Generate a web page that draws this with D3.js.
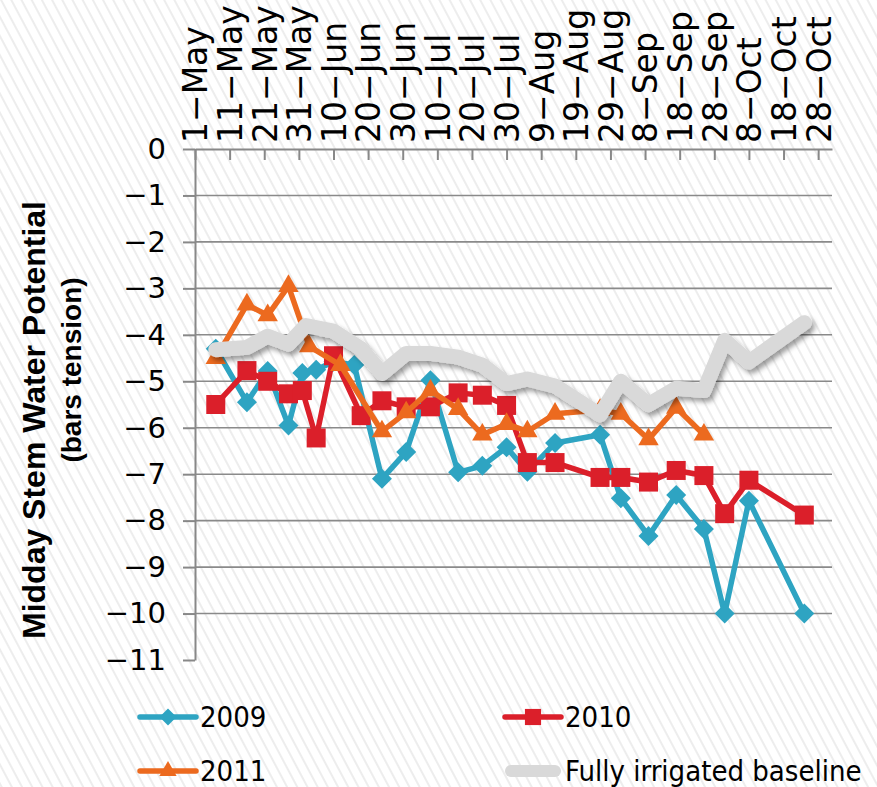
<!DOCTYPE html>
<html>
<head>
<meta charset="utf-8">
<script src="https://cdn.jsdelivr.net/npm/d3@7"></script>
<style>
  body { margin: 0; background: #fff; }
  svg { display: block; }
</style>
</head>
<body>
<svg id="chart" width="877" height="787"></svg>
<script>
// Season dates (month-day) and midday stem water potential readings, bars tension
const tickDates = ["05-01","05-11","05-21","05-31","06-10","06-20","06-30","07-10","07-20","07-30",
                   "08-09","08-19","08-29","09-08","09-18","09-28","10-08","10-18","10-28"];
const tickLabels = ["1−May","11−May","21−May","31−May","10−Jun","20−Jun","30−Jun","10−Jul","20−Jul","30−Jul",
                    "9−Aug","19−Aug","29−Aug","8−Sep","18−Sep","28−Sep","8−Oct","18−Oct","28−Oct"];
const yTicks = [0,-1,-2,-3,-4,-5,-6,-7,-8,-9,-10,-11];

const dates2009 = ["05-07","05-16","05-22","05-28","06-01","06-05","06-10","06-16","06-24","07-01","07-08","07-16",
                   "07-23","07-30","08-05","08-13","08-26","09-01","09-09","09-17","09-25","10-01","10-08","10-24"];
const values2009 = [-4.3,-5.45,-4.78,-5.95,-4.82,-4.75,-4.58,-4.65,-7.1,-6.52,-4.98,-6.96,
                    -6.82,-6.42,-6.95,-6.33,-6.15,-7.52,-8.33,-7.45,-8.18,-10.0,-7.57,-10.0];

const dates2010 = ["05-07","05-16","05-22","05-28","06-01","06-05","06-10","06-18","06-24","07-01","07-08","07-16",
                   "07-23","07-30","08-05","08-13","08-26","09-01","09-09","09-17","09-25","10-01","10-08","10-24"];
const values2010 = [-5.5,-4.77,-5.0,-5.27,-5.2,-6.22,-4.45,-5.74,-5.42,-5.55,-5.55,-5.25,
                    -5.3,-5.52,-6.75,-6.75,-7.07,-7.07,-7.17,-6.92,-7.03,-7.85,-7.13,-7.88];

const dates2011 = ["05-07","05-16","05-22","05-28","06-03","06-12","06-24","07-01","07-08","07-16",
                   "07-23","07-30","08-05","08-13","08-26","09-01","09-09","09-17","09-25"];
const values2011 = [-4.5,-3.35,-3.58,-2.95,-4.25,-4.65,-6.08,-5.67,-5.2,-5.6,
                    -6.15,-5.92,-6.08,-5.7,-5.62,-5.7,-6.25,-5.57,-6.15];

const datesBaseline = ["05-07","05-16","05-22","05-28","06-02","06-10","06-18","06-24","07-01","07-08","07-16","07-23",
                       "07-30","08-05","08-13","08-26","09-01","09-09","09-17","09-25","10-01","10-08","10-24"];
const valuesBaseline = [-4.32,-4.27,-4.03,-4.2,-3.8,-3.92,-4.3,-4.83,-4.4,-4.4,-4.48,-4.65,
                        -5.05,-4.95,-5.1,-5.72,-5.0,-5.5,-5.15,-5.2,-4.12,-4.58,-3.74];

const parseDay = d3.timeParse("%m-%d");

const series = [
  { name: "2009", dates: dates2009, values: values2009, color: "#2ea4c2", marker: "diamond" },
  { name: "2010", dates: dates2010, values: values2010, color: "#db1f2a", marker: "square" },
  { name: "2011", dates: dates2011, values: values2011, color: "#ec6a1f", marker: "triangle" },
  { name: "Fully irrigated baseline", dates: datesBaseline, values: valuesBaseline, color: "#d9d9d9", marker: null }
];

const svg = d3.select("#chart");
const W = 877, H = 787;

// ---- background hatching and shadow filter ----
const defs = svg.append("defs");
const hatch = defs.append("pattern")
  .attr("id", "hatch")
  .attr("patternUnits", "userSpaceOnUse")
  .attr("width", 9).attr("height", 9)
  .attr("patternTransform", "rotate(-28)");
hatch.append("rect").attr("width", 9).attr("height", 9).attr("fill", "#ffffff");
hatch.append("line").attr("x1", 1).attr("y1", 0).attr("x2", 1).attr("y2", 9)
  .attr("stroke", "#e4e4e4").attr("stroke-width", 1.3);

const shadow = defs.append("filter").attr("id", "shadow")
  .attr("x", "-10%").attr("y", "-20%").attr("width", "130%").attr("height", "150%");
shadow.append("feDropShadow")
  .attr("dx", 3).attr("dy", 4).attr("stdDeviation", 2.5)
  .attr("flood-color", "#000").attr("flood-opacity", 0.38);

svg.append("rect").attr("width", W).attr("height", H).attr("fill", "url(#hatch)");

// ---- scales ----
const x = d3.scaleTime()
  .domain([parseDay("05-01"), parseDay("11-01")])
  .range([195, 832]);
const y = d3.scaleLinear()
  .domain([0, -11])
  .range([149, 660]);

const axisColor = "#888888";

// ---- gridlines ----
svg.append("g")
  .selectAll("line")
  .data(yTicks.filter(v => v !== 0 && v !== -11))
  .join("line")
  .attr("x1", x.range()[0]).attr("x2", x.range()[1])
  .attr("y1", d => y(d)).attr("y2", d => y(d))
  .attr("stroke", "#8a8a8a").attr("stroke-width", 1.6);

// ---- y axis ----
const yAxis = svg.append("g")
  .attr("transform", `translate(${x.range()[0]},0)`)
  .call(d3.axisLeft(y).tickValues(yTicks).tickFormat(d3.format("d")).tickSize(12).tickSizeOuter(0).tickPadding(17));
yAxis.select(".domain").attr("stroke", axisColor).attr("stroke-width", 2);
yAxis.selectAll(".tick line").attr("stroke", axisColor).attr("stroke-width", 2);
yAxis.selectAll(".tick text")
  .attr("font-family", "DejaVu Sans")
  .attr("font-size", 29)
  .attr("fill", "#000");

// ---- top date axis ----
const xAxis = svg.append("g")
  .attr("transform", `translate(0,${y(0)})`)
  .call(d3.axisTop(x)
    .tickValues(tickDates.map(parseDay))
    .tickFormat((d, i) => tickLabels[i])
    .tickSize(-11).tickSizeOuter(0));
xAxis.select(".domain").attr("stroke", axisColor).attr("stroke-width", 2);
xAxis.selectAll(".tick line").attr("stroke", axisColor).attr("stroke-width", 2);
xAxis.selectAll(".tick text")
  .attr("font-family", "DejaVu Sans")
  .attr("font-size", 33)
  .attr("fill", "#000")
  .attr("text-anchor", "start")
  .attr("transform", "rotate(-90)")
  .attr("x", 6).attr("y", 0).attr("dy", "0.36em");

// ---- y axis title ----
const titleFont = "Liberation Sans, Arial, sans-serif";
svg.append("text")
  .attr("transform", "translate(33,420) rotate(-90)")
  .attr("text-anchor", "middle").attr("dy", "0.36em")
  .attr("font-family", titleFont).attr("font-weight", "bold").attr("font-size", 32)
  .text("Midday Stem Water Potential");
svg.append("text")
  .attr("transform", "translate(71,370) rotate(-90)")
  .attr("text-anchor", "middle").attr("dy", "0.36em")
  .attr("font-family", titleFont).attr("font-weight", "bold").attr("font-size", 28)
  .text("(bars tension)");

// ---- markers ----
function markerPath(type, scale) {
  if (type === "diamond") return d3.symbol(d3.symbolSquare, 200 * scale * scale)();
  if (type === "square") return d3.symbol(d3.symbolSquare, 361 * scale * scale)();
  if (type === "triangle") return d3.symbol(d3.symbolTriangle, 180 * scale * scale)();
  return null;
}
function markerRotate(type) { return type === "diamond" ? " rotate(45)" : ""; }

const line = d3.line()
  .x(d => x(d.date))
  .y(d => y(d.value))
  .curve(d3.curveLinear);

series.forEach(s => {
  const pts = s.dates.map((d, i) => ({ date: parseDay(d), value: s.values[i] }));
  const g = svg.append("g");
  if (s.marker) {
    g.append("path")
      .attr("d", line(pts))
      .attr("fill", "none")
      .attr("stroke", s.color)
      .attr("stroke-width", 5.5)
      .attr("stroke-linejoin", "round");
    g.selectAll("path.m")
      .data(pts)
      .join("path")
      .attr("class", "m")
      .attr("d", markerPath(s.marker, 1))
      .attr("transform", d => `translate(${x(d.date)},${y(d.value)})${markerRotate(s.marker)}`)
      .attr("fill", s.color);
  } else {
    g.append("path")
      .attr("d", line(pts))
      .attr("fill", "none")
      .attr("stroke", s.color)
      .attr("stroke-width", 15)
      .attr("stroke-linejoin", "round")
      .attr("stroke-linecap", "round")
      .attr("filter", "url(#shadow)");
  }
});

// ---- legend ----
const legendPos = [
  { lx: 140, ty: 717 },
  { lx: 505, ty: 717 },
  { lx: 140, ty: 771 },
  { lx: 505, ty: 771 }
];
const legend = svg.append("g");
series.forEach((s, i) => {
  const p = legendPos[i];
  const g = legend.append("g");
  if (s.marker) {
    g.append("line")
      .attr("x1", p.lx).attr("x2", p.lx + 56)
      .attr("y1", p.ty).attr("y2", p.ty)
      .attr("stroke", s.color).attr("stroke-width", 5.5)
      .attr("stroke-linecap", "round");
    g.append("path")
      .attr("d", markerPath(s.marker, 0.85))
      .attr("transform", `translate(${p.lx + 28},${p.ty})${markerRotate(s.marker)}`)
      .attr("fill", s.color);
  } else {
    g.append("line")
      .attr("x1", p.lx + 6).attr("x2", p.lx + 50)
      .attr("y1", p.ty).attr("y2", p.ty)
      .attr("stroke", s.color).attr("stroke-width", 12)
      .attr("stroke-linecap", "round");
  }
  g.append("text")
    .attr("x", p.lx + 60).attr("y", p.ty)
    .attr("dy", "0.36em")
    .attr("font-family", "DejaVu Sans Condensed, DejaVu Sans")
    .attr("font-stretch", "condensed")
    .attr("font-size", 29)
    .attr("fill", "#000")
    .text(s.name);
});
</script>
</body>
</html>
